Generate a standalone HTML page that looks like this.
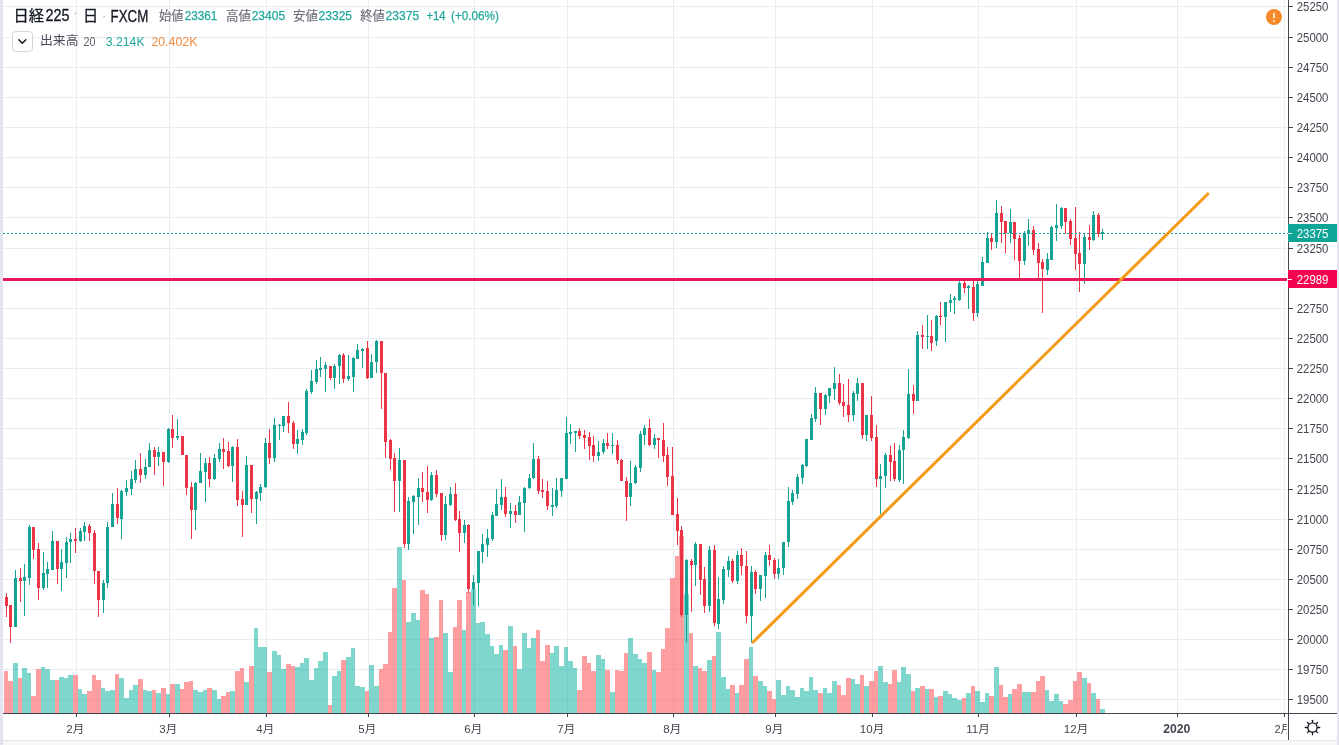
<!DOCTYPE html>
<html lang="ja"><head><meta charset="utf-8"><title>日経225 日 FXCM</title>
<style>html,body{margin:0;padding:0;background:#fff;overflow:hidden}svg{display:block;will-change:transform;opacity:0.999}</style>
</head><body>
<svg width="1339" height="745" viewBox="0 0 1339 745" font-family="'Liberation Sans', 'Noto Sans CJK JP', sans-serif">
<rect width="1339" height="745" fill="#fff"/>
<rect x="0" y="741" width="1339" height="4" fill="#f6f7f9"/>
<rect x="3" y="740" width="1334" height="1" fill="#e3e5ea"/>
<rect x="0" y="0" width="3" height="745" fill="#e4e4ee"/>
<rect x="1337" y="0" width="2" height="745" fill="#e6e4ee"/>
<g fill="#e7edf3" shape-rendering="crispEdges">
<rect x="3" y="6" width="1285" height="1"/>
<rect x="3" y="37" width="1285" height="1"/>
<rect x="3" y="67" width="1285" height="1"/>
<rect x="3" y="97" width="1285" height="1"/>
<rect x="3" y="127" width="1285" height="1"/>
<rect x="3" y="157" width="1285" height="1"/>
<rect x="3" y="187" width="1285" height="1"/>
<rect x="3" y="217" width="1285" height="1"/>
<rect x="3" y="248" width="1285" height="1"/>
<rect x="3" y="278" width="1285" height="1"/>
<rect x="3" y="308" width="1285" height="1"/>
<rect x="3" y="338" width="1285" height="1"/>
<rect x="3" y="368" width="1285" height="1"/>
<rect x="3" y="398" width="1285" height="1"/>
<rect x="3" y="428" width="1285" height="1"/>
<rect x="3" y="458" width="1285" height="1"/>
<rect x="3" y="489" width="1285" height="1"/>
<rect x="3" y="519" width="1285" height="1"/>
<rect x="3" y="549" width="1285" height="1"/>
<rect x="3" y="579" width="1285" height="1"/>
<rect x="3" y="609" width="1285" height="1"/>
<rect x="3" y="639" width="1285" height="1"/>
<rect x="3" y="669" width="1285" height="1"/>
<rect x="3" y="699" width="1285" height="1"/>
<rect x="76" y="0" width="1" height="713"/>
<rect x="169" y="0" width="1" height="713"/>
<rect x="266" y="0" width="1" height="713"/>
<rect x="368" y="0" width="1" height="713"/>
<rect x="474" y="0" width="1" height="713"/>
<rect x="567" y="0" width="1" height="713"/>
<rect x="673" y="0" width="1" height="713"/>
<rect x="775" y="0" width="1" height="713"/>
<rect x="872" y="0" width="1" height="713"/>
<rect x="978" y="0" width="1" height="713"/>
<rect x="1076" y="0" width="1" height="713"/>
<rect x="1177" y="0" width="1" height="713"/>
<rect x="1284" y="0" width="1" height="713"/>
</g>
<g shape-rendering="crispEdges" fill-opacity="0.55">
<rect x="4" y="671" width="4" height="42" fill="#ff4f52"/>
<rect x="8" y="681" width="5" height="32" fill="#ff4f52"/>
<rect x="13" y="663" width="5" height="50" fill="#14b4a4"/>
<rect x="18" y="678" width="4" height="35" fill="#ff4f52"/>
<rect x="22" y="668" width="5" height="45" fill="#14b4a4"/>
<rect x="27" y="673" width="4" height="40" fill="#14b4a4"/>
<rect x="31" y="696" width="5" height="17" fill="#ff4f52"/>
<rect x="36" y="669" width="5" height="44" fill="#ff4f52"/>
<rect x="41" y="667" width="4" height="46" fill="#14b4a4"/>
<rect x="45" y="669" width="5" height="44" fill="#14b4a4"/>
<rect x="50" y="680" width="5" height="33" fill="#14b4a4"/>
<rect x="55" y="680" width="4" height="33" fill="#ff4f52"/>
<rect x="59" y="677" width="5" height="36" fill="#14b4a4"/>
<rect x="64" y="678" width="4" height="35" fill="#14b4a4"/>
<rect x="68" y="675" width="5" height="38" fill="#14b4a4"/>
<rect x="73" y="675" width="5" height="38" fill="#ff4f52"/>
<rect x="78" y="689" width="4" height="24" fill="#14b4a4"/>
<rect x="82" y="694" width="5" height="19" fill="#14b4a4"/>
<rect x="87" y="691" width="5" height="22" fill="#ff4f52"/>
<rect x="92" y="675" width="4" height="38" fill="#ff4f52"/>
<rect x="96" y="680" width="5" height="33" fill="#ff4f52"/>
<rect x="101" y="688" width="4" height="25" fill="#14b4a4"/>
<rect x="105" y="691" width="5" height="22" fill="#14b4a4"/>
<rect x="110" y="690" width="5" height="23" fill="#14b4a4"/>
<rect x="115" y="674" width="4" height="39" fill="#ff4f52"/>
<rect x="119" y="678" width="5" height="35" fill="#14b4a4"/>
<rect x="124" y="698" width="5" height="15" fill="#14b4a4"/>
<rect x="129" y="690" width="4" height="23" fill="#14b4a4"/>
<rect x="133" y="685" width="5" height="28" fill="#14b4a4"/>
<rect x="138" y="679" width="5" height="34" fill="#ff4f52"/>
<rect x="143" y="690" width="4" height="23" fill="#14b4a4"/>
<rect x="147" y="691" width="5" height="22" fill="#14b4a4"/>
<rect x="152" y="690" width="4" height="23" fill="#ff4f52"/>
<rect x="156" y="693" width="5" height="20" fill="#14b4a4"/>
<rect x="161" y="688" width="5" height="25" fill="#ff4f52"/>
<rect x="166" y="694" width="4" height="19" fill="#14b4a4"/>
<rect x="170" y="684" width="5" height="29" fill="#ff4f52"/>
<rect x="175" y="684" width="5" height="29" fill="#14b4a4"/>
<rect x="180" y="689" width="4" height="24" fill="#ff4f52"/>
<rect x="184" y="682" width="5" height="31" fill="#ff4f52"/>
<rect x="189" y="681" width="4" height="32" fill="#ff4f52"/>
<rect x="193" y="690" width="5" height="23" fill="#14b4a4"/>
<rect x="198" y="692" width="5" height="21" fill="#14b4a4"/>
<rect x="203" y="690" width="4" height="23" fill="#14b4a4"/>
<rect x="207" y="688" width="5" height="25" fill="#ff4f52"/>
<rect x="212" y="690" width="5" height="23" fill="#14b4a4"/>
<rect x="217" y="699" width="4" height="14" fill="#14b4a4"/>
<rect x="221" y="696" width="5" height="17" fill="#ff4f52"/>
<rect x="226" y="692" width="4" height="21" fill="#ff4f52"/>
<rect x="230" y="691" width="5" height="22" fill="#14b4a4"/>
<rect x="235" y="671" width="5" height="42" fill="#ff4f52"/>
<rect x="240" y="668" width="4" height="45" fill="#ff4f52"/>
<rect x="244" y="682" width="5" height="31" fill="#14b4a4"/>
<rect x="249" y="666" width="5" height="47" fill="#ff4f52"/>
<rect x="254" y="628" width="4" height="85" fill="#14b4a4"/>
<rect x="258" y="647" width="5" height="66" fill="#14b4a4"/>
<rect x="263" y="647" width="4" height="66" fill="#14b4a4"/>
<rect x="267" y="672" width="5" height="41" fill="#ff4f52"/>
<rect x="272" y="651" width="5" height="62" fill="#14b4a4"/>
<rect x="277" y="655" width="4" height="58" fill="#14b4a4"/>
<rect x="281" y="669" width="5" height="44" fill="#14b4a4"/>
<rect x="286" y="664" width="5" height="49" fill="#ff4f52"/>
<rect x="291" y="666" width="4" height="47" fill="#ff4f52"/>
<rect x="295" y="667" width="5" height="46" fill="#14b4a4"/>
<rect x="300" y="663" width="4" height="50" fill="#14b4a4"/>
<rect x="304" y="658" width="5" height="55" fill="#14b4a4"/>
<rect x="309" y="680" width="5" height="33" fill="#14b4a4"/>
<rect x="314" y="668" width="4" height="45" fill="#14b4a4"/>
<rect x="318" y="661" width="5" height="52" fill="#14b4a4"/>
<rect x="323" y="652" width="5" height="61" fill="#14b4a4"/>
<rect x="328" y="705" width="4" height="8" fill="#ff4f52"/>
<rect x="332" y="676" width="5" height="37" fill="#14b4a4"/>
<rect x="337" y="671" width="4" height="42" fill="#14b4a4"/>
<rect x="341" y="660" width="5" height="53" fill="#ff4f52"/>
<rect x="346" y="657" width="5" height="56" fill="#14b4a4"/>
<rect x="351" y="648" width="4" height="65" fill="#14b4a4"/>
<rect x="355" y="686" width="5" height="27" fill="#14b4a4"/>
<rect x="360" y="687" width="5" height="26" fill="#14b4a4"/>
<rect x="365" y="691" width="4" height="22" fill="#ff4f52"/>
<rect x="369" y="665" width="5" height="48" fill="#14b4a4"/>
<rect x="374" y="686" width="5" height="27" fill="#14b4a4"/>
<rect x="379" y="669" width="4" height="44" fill="#ff4f52"/>
<rect x="383" y="664" width="5" height="49" fill="#ff4f52"/>
<rect x="388" y="632" width="4" height="81" fill="#ff4f52"/>
<rect x="392" y="588" width="5" height="125" fill="#ff4f52"/>
<rect x="397" y="547" width="5" height="166" fill="#14b4a4"/>
<rect x="402" y="580" width="4" height="133" fill="#ff4f52"/>
<rect x="406" y="622" width="5" height="91" fill="#14b4a4"/>
<rect x="411" y="613" width="5" height="100" fill="#14b4a4"/>
<rect x="416" y="620" width="4" height="93" fill="#14b4a4"/>
<rect x="420" y="590" width="5" height="123" fill="#ff4f52"/>
<rect x="425" y="594" width="4" height="119" fill="#ff4f52"/>
<rect x="429" y="638" width="5" height="75" fill="#14b4a4"/>
<rect x="434" y="637" width="5" height="76" fill="#ff4f52"/>
<rect x="439" y="600" width="4" height="113" fill="#ff4f52"/>
<rect x="443" y="633" width="5" height="80" fill="#14b4a4"/>
<rect x="448" y="672" width="5" height="41" fill="#14b4a4"/>
<rect x="453" y="627" width="4" height="86" fill="#ff4f52"/>
<rect x="457" y="600" width="5" height="113" fill="#ff4f52"/>
<rect x="462" y="630" width="4" height="83" fill="#14b4a4"/>
<rect x="466" y="592" width="5" height="121" fill="#ff4f52"/>
<rect x="471" y="589" width="5" height="124" fill="#14b4a4"/>
<rect x="476" y="623" width="4" height="90" fill="#14b4a4"/>
<rect x="480" y="622" width="5" height="91" fill="#14b4a4"/>
<rect x="485" y="634" width="5" height="79" fill="#14b4a4"/>
<rect x="490" y="646" width="4" height="67" fill="#14b4a4"/>
<rect x="494" y="654" width="5" height="59" fill="#14b4a4"/>
<rect x="499" y="645" width="4" height="68" fill="#14b4a4"/>
<rect x="503" y="650" width="5" height="63" fill="#ff4f52"/>
<rect x="508" y="626" width="5" height="87" fill="#14b4a4"/>
<rect x="513" y="646" width="4" height="67" fill="#ff4f52"/>
<rect x="517" y="669" width="5" height="44" fill="#14b4a4"/>
<rect x="522" y="633" width="5" height="80" fill="#14b4a4"/>
<rect x="527" y="648" width="4" height="65" fill="#14b4a4"/>
<rect x="531" y="638" width="5" height="75" fill="#14b4a4"/>
<rect x="536" y="630" width="4" height="83" fill="#ff4f52"/>
<rect x="540" y="661" width="5" height="52" fill="#ff4f52"/>
<rect x="545" y="645" width="5" height="68" fill="#ff4f52"/>
<rect x="550" y="653" width="4" height="60" fill="#14b4a4"/>
<rect x="554" y="646" width="5" height="67" fill="#14b4a4"/>
<rect x="559" y="666" width="5" height="47" fill="#14b4a4"/>
<rect x="564" y="647" width="4" height="66" fill="#14b4a4"/>
<rect x="568" y="661" width="5" height="52" fill="#14b4a4"/>
<rect x="573" y="668" width="4" height="45" fill="#14b4a4"/>
<rect x="577" y="690" width="5" height="23" fill="#ff4f52"/>
<rect x="582" y="656" width="5" height="57" fill="#ff4f52"/>
<rect x="587" y="663" width="4" height="50" fill="#ff4f52"/>
<rect x="591" y="671" width="5" height="42" fill="#ff4f52"/>
<rect x="596" y="655" width="5" height="58" fill="#14b4a4"/>
<rect x="601" y="659" width="4" height="54" fill="#14b4a4"/>
<rect x="605" y="670" width="5" height="43" fill="#ff4f52"/>
<rect x="610" y="692" width="5" height="21" fill="#14b4a4"/>
<rect x="615" y="670" width="4" height="43" fill="#ff4f52"/>
<rect x="619" y="671" width="5" height="42" fill="#ff4f52"/>
<rect x="624" y="653" width="4" height="60" fill="#ff4f52"/>
<rect x="628" y="638" width="5" height="75" fill="#14b4a4"/>
<rect x="633" y="654" width="5" height="59" fill="#14b4a4"/>
<rect x="638" y="659" width="4" height="54" fill="#14b4a4"/>
<rect x="642" y="663" width="5" height="50" fill="#14b4a4"/>
<rect x="647" y="652" width="5" height="61" fill="#ff4f52"/>
<rect x="652" y="670" width="4" height="43" fill="#14b4a4"/>
<rect x="656" y="672" width="5" height="41" fill="#ff4f52"/>
<rect x="661" y="649" width="4" height="64" fill="#ff4f52"/>
<rect x="665" y="628" width="5" height="85" fill="#ff4f52"/>
<rect x="670" y="578" width="5" height="135" fill="#ff4f52"/>
<rect x="675" y="556" width="4" height="157" fill="#ff4f52"/>
<rect x="679" y="536" width="5" height="177" fill="#ff4f52"/>
<rect x="684" y="594" width="5" height="119" fill="#14b4a4"/>
<rect x="689" y="633" width="4" height="80" fill="#ff4f52"/>
<rect x="693" y="666" width="5" height="47" fill="#14b4a4"/>
<rect x="698" y="668" width="4" height="45" fill="#ff4f52"/>
<rect x="702" y="671" width="5" height="42" fill="#ff4f52"/>
<rect x="707" y="660" width="5" height="53" fill="#14b4a4"/>
<rect x="712" y="656" width="4" height="57" fill="#ff4f52"/>
<rect x="716" y="632" width="5" height="81" fill="#14b4a4"/>
<rect x="721" y="677" width="5" height="36" fill="#14b4a4"/>
<rect x="726" y="689" width="4" height="24" fill="#14b4a4"/>
<rect x="730" y="685" width="5" height="28" fill="#ff4f52"/>
<rect x="735" y="693" width="4" height="20" fill="#14b4a4"/>
<rect x="739" y="685" width="5" height="28" fill="#ff4f52"/>
<rect x="744" y="659" width="5" height="54" fill="#ff4f52"/>
<rect x="749" y="647" width="4" height="66" fill="#14b4a4"/>
<rect x="753" y="676" width="5" height="37" fill="#ff4f52"/>
<rect x="758" y="681" width="5" height="32" fill="#14b4a4"/>
<rect x="763" y="686" width="4" height="27" fill="#14b4a4"/>
<rect x="767" y="691" width="5" height="22" fill="#ff4f52"/>
<rect x="772" y="699" width="4" height="14" fill="#ff4f52"/>
<rect x="776" y="680" width="5" height="33" fill="#14b4a4"/>
<rect x="781" y="695" width="5" height="18" fill="#14b4a4"/>
<rect x="786" y="686" width="4" height="27" fill="#14b4a4"/>
<rect x="790" y="690" width="5" height="23" fill="#14b4a4"/>
<rect x="795" y="697" width="5" height="16" fill="#14b4a4"/>
<rect x="800" y="688" width="4" height="25" fill="#14b4a4"/>
<rect x="804" y="691" width="5" height="22" fill="#14b4a4"/>
<rect x="809" y="677" width="4" height="36" fill="#14b4a4"/>
<rect x="813" y="690" width="5" height="23" fill="#14b4a4"/>
<rect x="818" y="693" width="5" height="20" fill="#ff4f52"/>
<rect x="823" y="688" width="4" height="25" fill="#14b4a4"/>
<rect x="827" y="693" width="5" height="20" fill="#14b4a4"/>
<rect x="832" y="681" width="5" height="32" fill="#14b4a4"/>
<rect x="837" y="685" width="4" height="28" fill="#ff4f52"/>
<rect x="841" y="695" width="5" height="18" fill="#ff4f52"/>
<rect x="846" y="678" width="5" height="35" fill="#ff4f52"/>
<rect x="851" y="679" width="4" height="34" fill="#14b4a4"/>
<rect x="855" y="684" width="5" height="29" fill="#14b4a4"/>
<rect x="860" y="675" width="4" height="38" fill="#ff4f52"/>
<rect x="864" y="686" width="5" height="27" fill="#14b4a4"/>
<rect x="869" y="681" width="5" height="32" fill="#ff4f52"/>
<rect x="874" y="671" width="4" height="42" fill="#ff4f52"/>
<rect x="878" y="666" width="5" height="47" fill="#14b4a4"/>
<rect x="883" y="682" width="5" height="31" fill="#14b4a4"/>
<rect x="888" y="684" width="4" height="29" fill="#ff4f52"/>
<rect x="892" y="670" width="5" height="43" fill="#ff4f52"/>
<rect x="897" y="682" width="4" height="31" fill="#14b4a4"/>
<rect x="901" y="667" width="5" height="46" fill="#14b4a4"/>
<rect x="906" y="674" width="5" height="39" fill="#14b4a4"/>
<rect x="911" y="691" width="4" height="22" fill="#ff4f52"/>
<rect x="915" y="688" width="5" height="25" fill="#14b4a4"/>
<rect x="920" y="686" width="5" height="27" fill="#ff4f52"/>
<rect x="925" y="689" width="4" height="24" fill="#14b4a4"/>
<rect x="929" y="689" width="5" height="24" fill="#ff4f52"/>
<rect x="934" y="697" width="4" height="16" fill="#14b4a4"/>
<rect x="938" y="696" width="5" height="17" fill="#ff4f52"/>
<rect x="943" y="691" width="5" height="22" fill="#14b4a4"/>
<rect x="948" y="694" width="4" height="19" fill="#14b4a4"/>
<rect x="952" y="698" width="5" height="15" fill="#14b4a4"/>
<rect x="957" y="700" width="5" height="13" fill="#14b4a4"/>
<rect x="962" y="698" width="4" height="15" fill="#ff4f52"/>
<rect x="966" y="693" width="5" height="20" fill="#14b4a4"/>
<rect x="971" y="686" width="4" height="27" fill="#ff4f52"/>
<rect x="975" y="691" width="5" height="22" fill="#14b4a4"/>
<rect x="980" y="702" width="5" height="11" fill="#14b4a4"/>
<rect x="985" y="693" width="4" height="20" fill="#14b4a4"/>
<rect x="989" y="696" width="5" height="17" fill="#ff4f52"/>
<rect x="994" y="667" width="5" height="46" fill="#14b4a4"/>
<rect x="999" y="685" width="4" height="28" fill="#ff4f52"/>
<rect x="1003" y="697" width="5" height="16" fill="#ff4f52"/>
<rect x="1008" y="694" width="4" height="19" fill="#14b4a4"/>
<rect x="1012" y="689" width="5" height="24" fill="#ff4f52"/>
<rect x="1017" y="684" width="5" height="29" fill="#ff4f52"/>
<rect x="1022" y="692" width="4" height="21" fill="#14b4a4"/>
<rect x="1026" y="692" width="5" height="21" fill="#14b4a4"/>
<rect x="1031" y="692" width="5" height="21" fill="#ff4f52"/>
<rect x="1036" y="681" width="4" height="32" fill="#ff4f52"/>
<rect x="1040" y="676" width="5" height="37" fill="#ff4f52"/>
<rect x="1045" y="690" width="4" height="23" fill="#14b4a4"/>
<rect x="1049" y="701" width="5" height="12" fill="#14b4a4"/>
<rect x="1054" y="694" width="5" height="19" fill="#14b4a4"/>
<rect x="1059" y="701" width="4" height="12" fill="#14b4a4"/>
<rect x="1063" y="704" width="5" height="9" fill="#ff4f52"/>
<rect x="1068" y="700" width="5" height="13" fill="#ff4f52"/>
<rect x="1073" y="681" width="4" height="32" fill="#ff4f52"/>
<rect x="1077" y="672" width="5" height="41" fill="#ff4f52"/>
<rect x="1082" y="678" width="5" height="35" fill="#14b4a4"/>
<rect x="1087" y="683" width="4" height="30" fill="#ff4f52"/>
<rect x="1091" y="693" width="5" height="20" fill="#14b4a4"/>
<rect x="1096" y="699" width="4" height="14" fill="#ff4f52"/>
<rect x="1100" y="709" width="5" height="4" fill="#14b4a4"/>
</g>
<g shape-rendering="crispEdges">
<rect x="6" y="593" width="1" height="24" fill="#ea3546"/>
<rect x="5" y="597" width="3" height="9" fill="#ea3546"/>
<rect x="10" y="605" width="1" height="38" fill="#ea3546"/>
<rect x="9" y="605" width="3" height="22" fill="#ea3546"/>
<rect x="15" y="570" width="1" height="57" fill="#16a394"/>
<rect x="14" y="578" width="3" height="49" fill="#16a394"/>
<rect x="20" y="568" width="1" height="34" fill="#ea3546"/>
<rect x="19" y="578" width="3" height="3" fill="#ea3546"/>
<rect x="24" y="564" width="1" height="52" fill="#16a394"/>
<rect x="23" y="577" width="3" height="4" fill="#16a394"/>
<rect x="29" y="525" width="1" height="60" fill="#16a394"/>
<rect x="28" y="527" width="3" height="51" fill="#16a394"/>
<rect x="33" y="527" width="1" height="32" fill="#ea3546"/>
<rect x="32" y="527" width="3" height="23" fill="#ea3546"/>
<rect x="38" y="543" width="1" height="57" fill="#ea3546"/>
<rect x="37" y="549" width="3" height="39" fill="#ea3546"/>
<rect x="43" y="552" width="1" height="38" fill="#16a394"/>
<rect x="42" y="573" width="3" height="15" fill="#16a394"/>
<rect x="47" y="562" width="1" height="26" fill="#16a394"/>
<rect x="46" y="569" width="3" height="5" fill="#16a394"/>
<rect x="52" y="531" width="1" height="39" fill="#16a394"/>
<rect x="51" y="541" width="3" height="29" fill="#16a394"/>
<rect x="57" y="541" width="1" height="43" fill="#ea3546"/>
<rect x="56" y="541" width="3" height="28" fill="#ea3546"/>
<rect x="61" y="549" width="1" height="42" fill="#16a394"/>
<rect x="60" y="562" width="3" height="7" fill="#16a394"/>
<rect x="66" y="537" width="1" height="41" fill="#16a394"/>
<rect x="65" y="542" width="3" height="21" fill="#16a394"/>
<rect x="70" y="533" width="1" height="30" fill="#16a394"/>
<rect x="69" y="539" width="3" height="3" fill="#16a394"/>
<rect x="75" y="528" width="1" height="25" fill="#ea3546"/>
<rect x="74" y="539" width="3" height="2" fill="#ea3546"/>
<rect x="80" y="528" width="1" height="14" fill="#16a394"/>
<rect x="79" y="531" width="3" height="10" fill="#16a394"/>
<rect x="84" y="522" width="1" height="19" fill="#16a394"/>
<rect x="83" y="526" width="3" height="6" fill="#16a394"/>
<rect x="89" y="524" width="1" height="17" fill="#ea3546"/>
<rect x="88" y="526" width="3" height="7" fill="#ea3546"/>
<rect x="94" y="530" width="1" height="54" fill="#ea3546"/>
<rect x="93" y="533" width="3" height="38" fill="#ea3546"/>
<rect x="98" y="571" width="1" height="46" fill="#ea3546"/>
<rect x="97" y="571" width="3" height="29" fill="#ea3546"/>
<rect x="103" y="580" width="1" height="33" fill="#16a394"/>
<rect x="102" y="583" width="3" height="17" fill="#16a394"/>
<rect x="107" y="522" width="1" height="66" fill="#16a394"/>
<rect x="106" y="527" width="3" height="56" fill="#16a394"/>
<rect x="112" y="493" width="1" height="34" fill="#16a394"/>
<rect x="111" y="504" width="3" height="23" fill="#16a394"/>
<rect x="117" y="488" width="1" height="36" fill="#ea3546"/>
<rect x="116" y="504" width="3" height="14" fill="#ea3546"/>
<rect x="121" y="490" width="1" height="49" fill="#16a394"/>
<rect x="120" y="491" width="3" height="28" fill="#16a394"/>
<rect x="126" y="480" width="1" height="16" fill="#16a394"/>
<rect x="125" y="488" width="3" height="4" fill="#16a394"/>
<rect x="131" y="471" width="1" height="24" fill="#16a394"/>
<rect x="130" y="479" width="3" height="10" fill="#16a394"/>
<rect x="135" y="460" width="1" height="23" fill="#16a394"/>
<rect x="134" y="469" width="3" height="11" fill="#16a394"/>
<rect x="140" y="453" width="1" height="30" fill="#ea3546"/>
<rect x="139" y="469" width="3" height="6" fill="#ea3546"/>
<rect x="145" y="459" width="1" height="20" fill="#16a394"/>
<rect x="144" y="467" width="3" height="8" fill="#16a394"/>
<rect x="149" y="443" width="1" height="24" fill="#16a394"/>
<rect x="148" y="450" width="3" height="17" fill="#16a394"/>
<rect x="154" y="447" width="1" height="28" fill="#ea3546"/>
<rect x="153" y="450" width="3" height="7" fill="#ea3546"/>
<rect x="158" y="447" width="1" height="19" fill="#16a394"/>
<rect x="157" y="452" width="3" height="5" fill="#16a394"/>
<rect x="163" y="452" width="1" height="34" fill="#ea3546"/>
<rect x="162" y="452" width="3" height="10" fill="#ea3546"/>
<rect x="168" y="428" width="1" height="35" fill="#16a394"/>
<rect x="167" y="429" width="3" height="33" fill="#16a394"/>
<rect x="172" y="415" width="1" height="33" fill="#ea3546"/>
<rect x="171" y="429" width="3" height="9" fill="#ea3546"/>
<rect x="177" y="419" width="1" height="21" fill="#16a394"/>
<rect x="176" y="436" width="3" height="2" fill="#16a394"/>
<rect x="182" y="436" width="1" height="19" fill="#ea3546"/>
<rect x="181" y="436" width="3" height="19" fill="#ea3546"/>
<rect x="186" y="455" width="1" height="40" fill="#ea3546"/>
<rect x="185" y="455" width="3" height="33" fill="#ea3546"/>
<rect x="191" y="482" width="1" height="57" fill="#ea3546"/>
<rect x="190" y="487" width="3" height="23" fill="#ea3546"/>
<rect x="195" y="482" width="1" height="48" fill="#16a394"/>
<rect x="194" y="483" width="3" height="27" fill="#16a394"/>
<rect x="200" y="453" width="1" height="30" fill="#16a394"/>
<rect x="199" y="471" width="3" height="12" fill="#16a394"/>
<rect x="205" y="458" width="1" height="44" fill="#16a394"/>
<rect x="204" y="463" width="3" height="9" fill="#16a394"/>
<rect x="209" y="457" width="1" height="30" fill="#ea3546"/>
<rect x="208" y="463" width="3" height="16" fill="#ea3546"/>
<rect x="214" y="454" width="1" height="26" fill="#16a394"/>
<rect x="213" y="458" width="3" height="21" fill="#16a394"/>
<rect x="219" y="443" width="1" height="19" fill="#16a394"/>
<rect x="218" y="449" width="3" height="10" fill="#16a394"/>
<rect x="223" y="438" width="1" height="31" fill="#ea3546"/>
<rect x="222" y="449" width="3" height="3" fill="#ea3546"/>
<rect x="228" y="442" width="1" height="25" fill="#ea3546"/>
<rect x="227" y="451" width="3" height="15" fill="#ea3546"/>
<rect x="232" y="446" width="1" height="36" fill="#16a394"/>
<rect x="231" y="447" width="3" height="19" fill="#16a394"/>
<rect x="237" y="439" width="1" height="67" fill="#ea3546"/>
<rect x="236" y="447" width="3" height="53" fill="#ea3546"/>
<rect x="242" y="491" width="1" height="46" fill="#ea3546"/>
<rect x="241" y="499" width="3" height="6" fill="#ea3546"/>
<rect x="246" y="456" width="1" height="49" fill="#16a394"/>
<rect x="245" y="465" width="3" height="40" fill="#16a394"/>
<rect x="251" y="465" width="1" height="48" fill="#ea3546"/>
<rect x="250" y="465" width="3" height="34" fill="#ea3546"/>
<rect x="256" y="491" width="1" height="33" fill="#16a394"/>
<rect x="255" y="492" width="3" height="7" fill="#16a394"/>
<rect x="260" y="484" width="1" height="17" fill="#16a394"/>
<rect x="259" y="487" width="3" height="6" fill="#16a394"/>
<rect x="265" y="438" width="1" height="50" fill="#16a394"/>
<rect x="264" y="443" width="3" height="44" fill="#16a394"/>
<rect x="269" y="429" width="1" height="35" fill="#ea3546"/>
<rect x="268" y="443" width="3" height="15" fill="#ea3546"/>
<rect x="274" y="418" width="1" height="44" fill="#16a394"/>
<rect x="273" y="425" width="3" height="33" fill="#16a394"/>
<rect x="279" y="424" width="1" height="16" fill="#16a394"/>
<rect x="278" y="425" width="3" height="1" fill="#16a394"/>
<rect x="283" y="416" width="1" height="16" fill="#16a394"/>
<rect x="282" y="416" width="3" height="10" fill="#16a394"/>
<rect x="288" y="402" width="1" height="31" fill="#ea3546"/>
<rect x="287" y="416" width="3" height="7" fill="#ea3546"/>
<rect x="293" y="421" width="1" height="28" fill="#ea3546"/>
<rect x="292" y="423" width="3" height="21" fill="#ea3546"/>
<rect x="297" y="430" width="1" height="24" fill="#16a394"/>
<rect x="296" y="439" width="3" height="5" fill="#16a394"/>
<rect x="302" y="429" width="1" height="16" fill="#16a394"/>
<rect x="301" y="432" width="3" height="8" fill="#16a394"/>
<rect x="306" y="389" width="1" height="46" fill="#16a394"/>
<rect x="305" y="391" width="3" height="42" fill="#16a394"/>
<rect x="311" y="370" width="1" height="24" fill="#16a394"/>
<rect x="310" y="381" width="3" height="11" fill="#16a394"/>
<rect x="316" y="360" width="1" height="24" fill="#16a394"/>
<rect x="315" y="369" width="3" height="13" fill="#16a394"/>
<rect x="320" y="357" width="1" height="20" fill="#16a394"/>
<rect x="319" y="368" width="3" height="2" fill="#16a394"/>
<rect x="325" y="362" width="1" height="30" fill="#16a394"/>
<rect x="324" y="365" width="3" height="4" fill="#16a394"/>
<rect x="330" y="366" width="1" height="14" fill="#ea3546"/>
<rect x="329" y="366" width="3" height="12" fill="#ea3546"/>
<rect x="334" y="364" width="1" height="25" fill="#16a394"/>
<rect x="333" y="366" width="3" height="12" fill="#16a394"/>
<rect x="339" y="354" width="1" height="30" fill="#16a394"/>
<rect x="338" y="355" width="3" height="11" fill="#16a394"/>
<rect x="343" y="353" width="1" height="30" fill="#ea3546"/>
<rect x="342" y="355" width="3" height="24" fill="#ea3546"/>
<rect x="348" y="355" width="1" height="26" fill="#16a394"/>
<rect x="347" y="376" width="3" height="3" fill="#16a394"/>
<rect x="353" y="357" width="1" height="35" fill="#16a394"/>
<rect x="352" y="358" width="3" height="19" fill="#16a394"/>
<rect x="357" y="344" width="1" height="15" fill="#16a394"/>
<rect x="356" y="350" width="3" height="9" fill="#16a394"/>
<rect x="362" y="348" width="1" height="20" fill="#16a394"/>
<rect x="361" y="349" width="3" height="2" fill="#16a394"/>
<rect x="367" y="341" width="1" height="38" fill="#ea3546"/>
<rect x="366" y="348" width="3" height="30" fill="#ea3546"/>
<rect x="371" y="354" width="1" height="24" fill="#16a394"/>
<rect x="370" y="362" width="3" height="16" fill="#16a394"/>
<rect x="376" y="340" width="1" height="33" fill="#16a394"/>
<rect x="375" y="341" width="3" height="21" fill="#16a394"/>
<rect x="381" y="341" width="1" height="68" fill="#ea3546"/>
<rect x="380" y="341" width="3" height="32" fill="#ea3546"/>
<rect x="385" y="373" width="1" height="85" fill="#ea3546"/>
<rect x="384" y="373" width="3" height="69" fill="#ea3546"/>
<rect x="390" y="439" width="1" height="31" fill="#ea3546"/>
<rect x="389" y="440" width="3" height="19" fill="#ea3546"/>
<rect x="394" y="453" width="1" height="59" fill="#ea3546"/>
<rect x="393" y="458" width="3" height="23" fill="#ea3546"/>
<rect x="399" y="448" width="1" height="64" fill="#16a394"/>
<rect x="398" y="460" width="3" height="21" fill="#16a394"/>
<rect x="404" y="460" width="1" height="88" fill="#ea3546"/>
<rect x="403" y="460" width="3" height="84" fill="#ea3546"/>
<rect x="408" y="497" width="1" height="53" fill="#16a394"/>
<rect x="407" y="501" width="3" height="43" fill="#16a394"/>
<rect x="413" y="495" width="1" height="39" fill="#16a394"/>
<rect x="412" y="496" width="3" height="6" fill="#16a394"/>
<rect x="418" y="478" width="1" height="47" fill="#16a394"/>
<rect x="417" y="488" width="3" height="9" fill="#16a394"/>
<rect x="422" y="472" width="1" height="30" fill="#ea3546"/>
<rect x="421" y="488" width="3" height="4" fill="#ea3546"/>
<rect x="427" y="466" width="1" height="47" fill="#ea3546"/>
<rect x="426" y="492" width="3" height="8" fill="#ea3546"/>
<rect x="431" y="472" width="1" height="29" fill="#16a394"/>
<rect x="430" y="475" width="3" height="25" fill="#16a394"/>
<rect x="436" y="470" width="1" height="27" fill="#ea3546"/>
<rect x="435" y="475" width="3" height="19" fill="#ea3546"/>
<rect x="441" y="493" width="1" height="48" fill="#ea3546"/>
<rect x="440" y="493" width="3" height="42" fill="#ea3546"/>
<rect x="445" y="496" width="1" height="44" fill="#16a394"/>
<rect x="444" y="504" width="3" height="31" fill="#16a394"/>
<rect x="450" y="487" width="1" height="19" fill="#16a394"/>
<rect x="449" y="494" width="3" height="11" fill="#16a394"/>
<rect x="455" y="483" width="1" height="38" fill="#ea3546"/>
<rect x="454" y="494" width="3" height="26" fill="#ea3546"/>
<rect x="459" y="511" width="1" height="41" fill="#ea3546"/>
<rect x="458" y="519" width="3" height="14" fill="#ea3546"/>
<rect x="464" y="520" width="1" height="23" fill="#16a394"/>
<rect x="463" y="525" width="3" height="8" fill="#16a394"/>
<rect x="468" y="524" width="1" height="69" fill="#ea3546"/>
<rect x="467" y="525" width="3" height="64" fill="#ea3546"/>
<rect x="473" y="575" width="1" height="30" fill="#16a394"/>
<rect x="472" y="582" width="3" height="7" fill="#16a394"/>
<rect x="478" y="551" width="1" height="55" fill="#16a394"/>
<rect x="477" y="551" width="3" height="32" fill="#16a394"/>
<rect x="482" y="534" width="1" height="29" fill="#16a394"/>
<rect x="481" y="544" width="3" height="8" fill="#16a394"/>
<rect x="487" y="529" width="1" height="28" fill="#16a394"/>
<rect x="486" y="538" width="3" height="7" fill="#16a394"/>
<rect x="492" y="512" width="1" height="29" fill="#16a394"/>
<rect x="491" y="515" width="3" height="24" fill="#16a394"/>
<rect x="496" y="489" width="1" height="27" fill="#16a394"/>
<rect x="495" y="504" width="3" height="12" fill="#16a394"/>
<rect x="501" y="479" width="1" height="31" fill="#16a394"/>
<rect x="500" y="497" width="3" height="8" fill="#16a394"/>
<rect x="505" y="487" width="1" height="30" fill="#ea3546"/>
<rect x="504" y="497" width="3" height="17" fill="#ea3546"/>
<rect x="510" y="503" width="1" height="25" fill="#16a394"/>
<rect x="509" y="511" width="3" height="3" fill="#16a394"/>
<rect x="515" y="505" width="1" height="18" fill="#ea3546"/>
<rect x="514" y="511" width="3" height="4" fill="#ea3546"/>
<rect x="519" y="496" width="1" height="19" fill="#16a394"/>
<rect x="518" y="502" width="3" height="13" fill="#16a394"/>
<rect x="524" y="487" width="1" height="45" fill="#16a394"/>
<rect x="523" y="488" width="3" height="15" fill="#16a394"/>
<rect x="529" y="474" width="1" height="15" fill="#16a394"/>
<rect x="528" y="478" width="3" height="10" fill="#16a394"/>
<rect x="533" y="443" width="1" height="36" fill="#16a394"/>
<rect x="532" y="459" width="3" height="19" fill="#16a394"/>
<rect x="538" y="456" width="1" height="38" fill="#ea3546"/>
<rect x="537" y="459" width="3" height="32" fill="#ea3546"/>
<rect x="542" y="479" width="1" height="19" fill="#ea3546"/>
<rect x="541" y="490" width="3" height="2" fill="#ea3546"/>
<rect x="547" y="481" width="1" height="29" fill="#ea3546"/>
<rect x="546" y="491" width="3" height="15" fill="#ea3546"/>
<rect x="552" y="488" width="1" height="28" fill="#16a394"/>
<rect x="551" y="505" width="3" height="2" fill="#16a394"/>
<rect x="556" y="478" width="1" height="30" fill="#16a394"/>
<rect x="555" y="490" width="3" height="16" fill="#16a394"/>
<rect x="561" y="478" width="1" height="19" fill="#16a394"/>
<rect x="560" y="478" width="3" height="13" fill="#16a394"/>
<rect x="566" y="417" width="1" height="62" fill="#16a394"/>
<rect x="565" y="433" width="3" height="46" fill="#16a394"/>
<rect x="570" y="424" width="1" height="20" fill="#16a394"/>
<rect x="569" y="432" width="3" height="2" fill="#16a394"/>
<rect x="575" y="431" width="1" height="21" fill="#16a394"/>
<rect x="574" y="431" width="3" height="2" fill="#16a394"/>
<rect x="579" y="428" width="1" height="11" fill="#ea3546"/>
<rect x="578" y="431" width="3" height="5" fill="#ea3546"/>
<rect x="584" y="430" width="1" height="19" fill="#ea3546"/>
<rect x="583" y="435" width="3" height="3" fill="#ea3546"/>
<rect x="589" y="432" width="1" height="28" fill="#ea3546"/>
<rect x="588" y="437" width="3" height="9" fill="#ea3546"/>
<rect x="593" y="436" width="1" height="26" fill="#ea3546"/>
<rect x="592" y="445" width="3" height="11" fill="#ea3546"/>
<rect x="598" y="441" width="1" height="20" fill="#16a394"/>
<rect x="597" y="452" width="3" height="4" fill="#16a394"/>
<rect x="603" y="439" width="1" height="15" fill="#16a394"/>
<rect x="602" y="443" width="3" height="9" fill="#16a394"/>
<rect x="607" y="433" width="1" height="16" fill="#ea3546"/>
<rect x="606" y="443" width="3" height="3" fill="#ea3546"/>
<rect x="612" y="433" width="1" height="21" fill="#16a394"/>
<rect x="611" y="445" width="3" height="1" fill="#16a394"/>
<rect x="617" y="440" width="1" height="24" fill="#ea3546"/>
<rect x="616" y="445" width="3" height="15" fill="#ea3546"/>
<rect x="621" y="459" width="1" height="22" fill="#ea3546"/>
<rect x="620" y="460" width="3" height="21" fill="#ea3546"/>
<rect x="626" y="477" width="1" height="44" fill="#ea3546"/>
<rect x="625" y="481" width="3" height="16" fill="#ea3546"/>
<rect x="630" y="461" width="1" height="45" fill="#16a394"/>
<rect x="629" y="483" width="3" height="14" fill="#16a394"/>
<rect x="635" y="465" width="1" height="19" fill="#16a394"/>
<rect x="634" y="467" width="3" height="16" fill="#16a394"/>
<rect x="640" y="431" width="1" height="41" fill="#16a394"/>
<rect x="639" y="434" width="3" height="34" fill="#16a394"/>
<rect x="644" y="425" width="1" height="20" fill="#16a394"/>
<rect x="643" y="428" width="3" height="7" fill="#16a394"/>
<rect x="649" y="419" width="1" height="27" fill="#ea3546"/>
<rect x="648" y="428" width="3" height="17" fill="#ea3546"/>
<rect x="654" y="434" width="1" height="15" fill="#16a394"/>
<rect x="653" y="438" width="3" height="7" fill="#16a394"/>
<rect x="658" y="438" width="1" height="20" fill="#ea3546"/>
<rect x="657" y="438" width="3" height="2" fill="#ea3546"/>
<rect x="663" y="423" width="1" height="39" fill="#ea3546"/>
<rect x="662" y="440" width="3" height="16" fill="#ea3546"/>
<rect x="667" y="447" width="1" height="39" fill="#ea3546"/>
<rect x="666" y="455" width="3" height="22" fill="#ea3546"/>
<rect x="672" y="447" width="1" height="68" fill="#ea3546"/>
<rect x="671" y="476" width="3" height="39" fill="#ea3546"/>
<rect x="677" y="498" width="1" height="47" fill="#ea3546"/>
<rect x="676" y="514" width="3" height="17" fill="#ea3546"/>
<rect x="681" y="526" width="1" height="91" fill="#ea3546"/>
<rect x="680" y="530" width="3" height="85" fill="#ea3546"/>
<rect x="686" y="559" width="1" height="83" fill="#16a394"/>
<rect x="685" y="560" width="3" height="55" fill="#16a394"/>
<rect x="691" y="559" width="1" height="53" fill="#ea3546"/>
<rect x="690" y="561" width="3" height="4" fill="#ea3546"/>
<rect x="695" y="542" width="1" height="44" fill="#16a394"/>
<rect x="694" y="544" width="3" height="21" fill="#16a394"/>
<rect x="700" y="544" width="1" height="51" fill="#ea3546"/>
<rect x="699" y="544" width="3" height="36" fill="#ea3546"/>
<rect x="704" y="567" width="1" height="46" fill="#ea3546"/>
<rect x="703" y="579" width="3" height="27" fill="#ea3546"/>
<rect x="709" y="546" width="1" height="66" fill="#16a394"/>
<rect x="708" y="550" width="3" height="56" fill="#16a394"/>
<rect x="714" y="545" width="1" height="81" fill="#ea3546"/>
<rect x="713" y="550" width="3" height="73" fill="#ea3546"/>
<rect x="718" y="577" width="1" height="52" fill="#16a394"/>
<rect x="717" y="599" width="3" height="25" fill="#16a394"/>
<rect x="723" y="566" width="1" height="38" fill="#16a394"/>
<rect x="722" y="569" width="3" height="31" fill="#16a394"/>
<rect x="728" y="556" width="1" height="21" fill="#16a394"/>
<rect x="727" y="561" width="3" height="9" fill="#16a394"/>
<rect x="732" y="559" width="1" height="24" fill="#ea3546"/>
<rect x="731" y="561" width="3" height="20" fill="#ea3546"/>
<rect x="737" y="551" width="1" height="33" fill="#16a394"/>
<rect x="736" y="555" width="3" height="26" fill="#16a394"/>
<rect x="741" y="548" width="1" height="27" fill="#ea3546"/>
<rect x="740" y="555" width="3" height="11" fill="#ea3546"/>
<rect x="746" y="551" width="1" height="72" fill="#ea3546"/>
<rect x="745" y="566" width="3" height="50" fill="#ea3546"/>
<rect x="751" y="566" width="1" height="77" fill="#16a394"/>
<rect x="750" y="572" width="3" height="44" fill="#16a394"/>
<rect x="755" y="570" width="1" height="24" fill="#ea3546"/>
<rect x="754" y="572" width="3" height="17" fill="#ea3546"/>
<rect x="760" y="575" width="1" height="26" fill="#16a394"/>
<rect x="759" y="575" width="3" height="14" fill="#16a394"/>
<rect x="765" y="552" width="1" height="46" fill="#16a394"/>
<rect x="764" y="555" width="3" height="21" fill="#16a394"/>
<rect x="769" y="545" width="1" height="21" fill="#ea3546"/>
<rect x="768" y="555" width="3" height="5" fill="#ea3546"/>
<rect x="774" y="558" width="1" height="21" fill="#ea3546"/>
<rect x="773" y="560" width="3" height="14" fill="#ea3546"/>
<rect x="778" y="559" width="1" height="20" fill="#16a394"/>
<rect x="777" y="568" width="3" height="6" fill="#16a394"/>
<rect x="783" y="542" width="1" height="33" fill="#16a394"/>
<rect x="782" y="542" width="3" height="26" fill="#16a394"/>
<rect x="788" y="487" width="1" height="60" fill="#16a394"/>
<rect x="787" y="501" width="3" height="41" fill="#16a394"/>
<rect x="792" y="490" width="1" height="15" fill="#16a394"/>
<rect x="791" y="493" width="3" height="9" fill="#16a394"/>
<rect x="797" y="474" width="1" height="25" fill="#16a394"/>
<rect x="796" y="477" width="3" height="17" fill="#16a394"/>
<rect x="802" y="464" width="1" height="20" fill="#16a394"/>
<rect x="801" y="465" width="3" height="13" fill="#16a394"/>
<rect x="806" y="439" width="1" height="28" fill="#16a394"/>
<rect x="805" y="439" width="3" height="27" fill="#16a394"/>
<rect x="811" y="414" width="1" height="26" fill="#16a394"/>
<rect x="810" y="418" width="3" height="22" fill="#16a394"/>
<rect x="815" y="387" width="1" height="35" fill="#16a394"/>
<rect x="814" y="393" width="3" height="26" fill="#16a394"/>
<rect x="820" y="393" width="1" height="32" fill="#ea3546"/>
<rect x="819" y="393" width="3" height="16" fill="#ea3546"/>
<rect x="825" y="394" width="1" height="21" fill="#16a394"/>
<rect x="824" y="395" width="3" height="14" fill="#16a394"/>
<rect x="829" y="388" width="1" height="15" fill="#16a394"/>
<rect x="828" y="388" width="3" height="8" fill="#16a394"/>
<rect x="834" y="367" width="1" height="33" fill="#16a394"/>
<rect x="833" y="383" width="3" height="6" fill="#16a394"/>
<rect x="839" y="374" width="1" height="31" fill="#ea3546"/>
<rect x="838" y="383" width="3" height="20" fill="#ea3546"/>
<rect x="843" y="384" width="1" height="33" fill="#ea3546"/>
<rect x="842" y="402" width="3" height="4" fill="#ea3546"/>
<rect x="848" y="379" width="1" height="43" fill="#ea3546"/>
<rect x="847" y="405" width="3" height="10" fill="#ea3546"/>
<rect x="853" y="391" width="1" height="30" fill="#16a394"/>
<rect x="852" y="393" width="3" height="22" fill="#16a394"/>
<rect x="857" y="378" width="1" height="23" fill="#16a394"/>
<rect x="856" y="383" width="3" height="11" fill="#16a394"/>
<rect x="862" y="383" width="1" height="56" fill="#ea3546"/>
<rect x="861" y="383" width="3" height="52" fill="#ea3546"/>
<rect x="866" y="415" width="1" height="26" fill="#16a394"/>
<rect x="865" y="415" width="3" height="20" fill="#16a394"/>
<rect x="871" y="396" width="1" height="45" fill="#ea3546"/>
<rect x="870" y="415" width="3" height="23" fill="#ea3546"/>
<rect x="876" y="425" width="1" height="62" fill="#ea3546"/>
<rect x="875" y="437" width="3" height="42" fill="#ea3546"/>
<rect x="880" y="464" width="1" height="50" fill="#16a394"/>
<rect x="879" y="476" width="3" height="3" fill="#16a394"/>
<rect x="885" y="453" width="1" height="35" fill="#16a394"/>
<rect x="884" y="455" width="3" height="21" fill="#16a394"/>
<rect x="890" y="446" width="1" height="35" fill="#ea3546"/>
<rect x="889" y="455" width="3" height="7" fill="#ea3546"/>
<rect x="894" y="443" width="1" height="38" fill="#ea3546"/>
<rect x="893" y="461" width="3" height="18" fill="#ea3546"/>
<rect x="899" y="445" width="1" height="37" fill="#16a394"/>
<rect x="898" y="450" width="3" height="30" fill="#16a394"/>
<rect x="903" y="430" width="1" height="54" fill="#16a394"/>
<rect x="902" y="437" width="3" height="13" fill="#16a394"/>
<rect x="908" y="369" width="1" height="70" fill="#16a394"/>
<rect x="907" y="394" width="3" height="44" fill="#16a394"/>
<rect x="913" y="385" width="1" height="29" fill="#ea3546"/>
<rect x="912" y="394" width="3" height="7" fill="#ea3546"/>
<rect x="917" y="331" width="1" height="70" fill="#16a394"/>
<rect x="916" y="335" width="3" height="66" fill="#16a394"/>
<rect x="922" y="325" width="1" height="24" fill="#ea3546"/>
<rect x="921" y="335" width="3" height="2" fill="#ea3546"/>
<rect x="927" y="315" width="1" height="34" fill="#16a394"/>
<rect x="926" y="336" width="3" height="1" fill="#16a394"/>
<rect x="931" y="320" width="1" height="31" fill="#ea3546"/>
<rect x="930" y="336" width="3" height="7" fill="#ea3546"/>
<rect x="936" y="315" width="1" height="31" fill="#16a394"/>
<rect x="935" y="316" width="3" height="25" fill="#16a394"/>
<rect x="940" y="302" width="1" height="23" fill="#ea3546"/>
<rect x="939" y="316" width="3" height="1" fill="#ea3546"/>
<rect x="945" y="302" width="1" height="40" fill="#16a394"/>
<rect x="944" y="302" width="3" height="15" fill="#16a394"/>
<rect x="950" y="294" width="1" height="18" fill="#16a394"/>
<rect x="949" y="300" width="3" height="3" fill="#16a394"/>
<rect x="954" y="296" width="1" height="18" fill="#16a394"/>
<rect x="953" y="298" width="3" height="2" fill="#16a394"/>
<rect x="959" y="281" width="1" height="20" fill="#16a394"/>
<rect x="958" y="283" width="3" height="17" fill="#16a394"/>
<rect x="964" y="279" width="1" height="14" fill="#ea3546"/>
<rect x="963" y="283" width="3" height="5" fill="#ea3546"/>
<rect x="968" y="285" width="1" height="24" fill="#16a394"/>
<rect x="967" y="286" width="3" height="2" fill="#16a394"/>
<rect x="973" y="281" width="1" height="40" fill="#ea3546"/>
<rect x="972" y="287" width="3" height="26" fill="#ea3546"/>
<rect x="977" y="281" width="1" height="36" fill="#16a394"/>
<rect x="976" y="284" width="3" height="29" fill="#16a394"/>
<rect x="982" y="257" width="1" height="29" fill="#16a394"/>
<rect x="981" y="262" width="3" height="24" fill="#16a394"/>
<rect x="987" y="232" width="1" height="31" fill="#16a394"/>
<rect x="986" y="238" width="3" height="25" fill="#16a394"/>
<rect x="991" y="234" width="1" height="16" fill="#ea3546"/>
<rect x="990" y="238" width="3" height="4" fill="#ea3546"/>
<rect x="996" y="200" width="1" height="48" fill="#16a394"/>
<rect x="995" y="213" width="3" height="29" fill="#16a394"/>
<rect x="1001" y="206" width="1" height="37" fill="#ea3546"/>
<rect x="1000" y="213" width="3" height="9" fill="#ea3546"/>
<rect x="1005" y="221" width="1" height="32" fill="#ea3546"/>
<rect x="1004" y="221" width="3" height="12" fill="#ea3546"/>
<rect x="1010" y="209" width="1" height="34" fill="#16a394"/>
<rect x="1009" y="222" width="3" height="11" fill="#16a394"/>
<rect x="1014" y="222" width="1" height="38" fill="#ea3546"/>
<rect x="1013" y="222" width="3" height="17" fill="#ea3546"/>
<rect x="1019" y="235" width="1" height="43" fill="#ea3546"/>
<rect x="1018" y="238" width="3" height="23" fill="#ea3546"/>
<rect x="1024" y="231" width="1" height="34" fill="#16a394"/>
<rect x="1023" y="233" width="3" height="28" fill="#16a394"/>
<rect x="1028" y="219" width="1" height="27" fill="#16a394"/>
<rect x="1027" y="230" width="3" height="4" fill="#16a394"/>
<rect x="1033" y="226" width="1" height="29" fill="#ea3546"/>
<rect x="1032" y="230" width="3" height="20" fill="#ea3546"/>
<rect x="1038" y="243" width="1" height="35" fill="#ea3546"/>
<rect x="1037" y="249" width="3" height="14" fill="#ea3546"/>
<rect x="1042" y="259" width="1" height="54" fill="#ea3546"/>
<rect x="1041" y="262" width="3" height="7" fill="#ea3546"/>
<rect x="1047" y="253" width="1" height="22" fill="#16a394"/>
<rect x="1046" y="259" width="3" height="11" fill="#16a394"/>
<rect x="1051" y="226" width="1" height="34" fill="#16a394"/>
<rect x="1050" y="227" width="3" height="33" fill="#16a394"/>
<rect x="1056" y="204" width="1" height="37" fill="#16a394"/>
<rect x="1055" y="225" width="3" height="3" fill="#16a394"/>
<rect x="1061" y="207" width="1" height="22" fill="#16a394"/>
<rect x="1060" y="208" width="3" height="18" fill="#16a394"/>
<rect x="1065" y="208" width="1" height="26" fill="#ea3546"/>
<rect x="1064" y="208" width="3" height="14" fill="#ea3546"/>
<rect x="1070" y="219" width="1" height="26" fill="#ea3546"/>
<rect x="1069" y="221" width="3" height="18" fill="#ea3546"/>
<rect x="1075" y="207" width="1" height="63" fill="#ea3546"/>
<rect x="1074" y="238" width="3" height="16" fill="#ea3546"/>
<rect x="1079" y="232" width="1" height="60" fill="#ea3546"/>
<rect x="1078" y="253" width="3" height="11" fill="#ea3546"/>
<rect x="1084" y="234" width="1" height="50" fill="#16a394"/>
<rect x="1083" y="237" width="3" height="27" fill="#16a394"/>
<rect x="1089" y="225" width="1" height="25" fill="#ea3546"/>
<rect x="1088" y="237" width="3" height="3" fill="#ea3546"/>
<rect x="1093" y="211" width="1" height="30" fill="#16a394"/>
<rect x="1092" y="215" width="3" height="25" fill="#16a394"/>
<rect x="1098" y="213" width="1" height="24" fill="#ea3546"/>
<rect x="1097" y="215" width="3" height="19" fill="#ea3546"/>
<rect x="1102" y="229" width="1" height="11" fill="#16a394"/>
<rect x="1101" y="232" width="3" height="2" fill="#16a394"/>
</g>
<line x1="3" y1="233.5" x2="1288" y2="233.5" stroke="#10a596" stroke-width="1" stroke-dasharray="2 2" shape-rendering="crispEdges"/>
<rect x="3" y="278" width="1284" height="3" fill="#e8185a" shape-rendering="crispEdges"/>
<line x1="752.2" y1="643" x2="1208.8" y2="193" stroke="#f59a16" stroke-width="3"/>
<g fill="#434651" shape-rendering="crispEdges">
<rect x="1288" y="0" width="1" height="740"/>
<rect x="3" y="713" width="1334" height="1" />
<rect x="1289" y="6" width="4" height="1"/>
<rect x="1289" y="37" width="4" height="1"/>
<rect x="1289" y="67" width="4" height="1"/>
<rect x="1289" y="97" width="4" height="1"/>
<rect x="1289" y="127" width="4" height="1"/>
<rect x="1289" y="157" width="4" height="1"/>
<rect x="1289" y="187" width="4" height="1"/>
<rect x="1289" y="217" width="4" height="1"/>
<rect x="1289" y="248" width="4" height="1"/>
<rect x="1289" y="278" width="4" height="1"/>
<rect x="1289" y="308" width="4" height="1"/>
<rect x="1289" y="338" width="4" height="1"/>
<rect x="1289" y="368" width="4" height="1"/>
<rect x="1289" y="398" width="4" height="1"/>
<rect x="1289" y="428" width="4" height="1"/>
<rect x="1289" y="458" width="4" height="1"/>
<rect x="1289" y="489" width="4" height="1"/>
<rect x="1289" y="519" width="4" height="1"/>
<rect x="1289" y="549" width="4" height="1"/>
<rect x="1289" y="579" width="4" height="1"/>
<rect x="1289" y="609" width="4" height="1"/>
<rect x="1289" y="639" width="4" height="1"/>
<rect x="1289" y="669" width="4" height="1"/>
<rect x="1289" y="699" width="4" height="1"/>
<rect x="76" y="714" width="1" height="3"/>
<rect x="169" y="714" width="1" height="3"/>
<rect x="266" y="714" width="1" height="3"/>
<rect x="368" y="714" width="1" height="3"/>
<rect x="474" y="714" width="1" height="3"/>
<rect x="567" y="714" width="1" height="3"/>
<rect x="673" y="714" width="1" height="3"/>
<rect x="775" y="714" width="1" height="3"/>
<rect x="872" y="714" width="1" height="3"/>
<rect x="978" y="714" width="1" height="3"/>
<rect x="1076" y="714" width="1" height="3"/>
<rect x="1177" y="714" width="1" height="3"/>
<rect x="1284" y="714" width="1" height="3"/>
</g>
<g font-size="12.2" fill="#42454f">
<text x="1296.8" y="10.7" textLength="31.6" lengthAdjust="spacingAndGlyphs">25250</text>
<text x="1296.8" y="41.7" textLength="31.6" lengthAdjust="spacingAndGlyphs">25000</text>
<text x="1296.8" y="71.7" textLength="31.6" lengthAdjust="spacingAndGlyphs">24750</text>
<text x="1296.8" y="101.7" textLength="31.6" lengthAdjust="spacingAndGlyphs">24500</text>
<text x="1296.8" y="131.7" textLength="31.6" lengthAdjust="spacingAndGlyphs">24250</text>
<text x="1296.8" y="161.7" textLength="31.6" lengthAdjust="spacingAndGlyphs">24000</text>
<text x="1296.8" y="191.7" textLength="31.6" lengthAdjust="spacingAndGlyphs">23750</text>
<text x="1296.8" y="221.7" textLength="31.6" lengthAdjust="spacingAndGlyphs">23500</text>
<text x="1296.8" y="252.7" textLength="31.6" lengthAdjust="spacingAndGlyphs">23250</text>
<text x="1296.8" y="282.7" textLength="31.6" lengthAdjust="spacingAndGlyphs">23000</text>
<text x="1296.8" y="312.7" textLength="31.6" lengthAdjust="spacingAndGlyphs">22750</text>
<text x="1296.8" y="342.7" textLength="31.6" lengthAdjust="spacingAndGlyphs">22500</text>
<text x="1296.8" y="372.7" textLength="31.6" lengthAdjust="spacingAndGlyphs">22250</text>
<text x="1296.8" y="402.7" textLength="31.6" lengthAdjust="spacingAndGlyphs">22000</text>
<text x="1296.8" y="432.7" textLength="31.6" lengthAdjust="spacingAndGlyphs">21750</text>
<text x="1296.8" y="462.7" textLength="31.6" lengthAdjust="spacingAndGlyphs">21500</text>
<text x="1296.8" y="493.7" textLength="31.6" lengthAdjust="spacingAndGlyphs">21250</text>
<text x="1296.8" y="523.7" textLength="31.6" lengthAdjust="spacingAndGlyphs">21000</text>
<text x="1296.8" y="553.7" textLength="31.6" lengthAdjust="spacingAndGlyphs">20750</text>
<text x="1296.8" y="583.7" textLength="31.6" lengthAdjust="spacingAndGlyphs">20500</text>
<text x="1296.8" y="613.7" textLength="31.6" lengthAdjust="spacingAndGlyphs">20250</text>
<text x="1296.8" y="643.7" textLength="31.6" lengthAdjust="spacingAndGlyphs">20000</text>
<text x="1296.8" y="673.7" textLength="31.6" lengthAdjust="spacingAndGlyphs">19750</text>
<text x="1296.8" y="703.7" textLength="31.6" lengthAdjust="spacingAndGlyphs">19500</text>
</g>
<rect x="1288" y="224" width="49" height="18" fill="#0fa596"/>
<rect x="1288" y="233" width="4" height="1" fill="#fff"/>
<text x="1296.8" y="237.7" font-size="12.2" fill="#fff" textLength="31.6" lengthAdjust="spacingAndGlyphs">23375</text>
<rect x="1288" y="270" width="49" height="18" fill="#f4044f"/>
<rect x="1288" y="279" width="4" height="1" fill="#fff"/>
<text x="1296.8" y="283.7" font-size="12.2" fill="#fff" textLength="31.6" lengthAdjust="spacingAndGlyphs">22989</text>
<g font-size="11.5" fill="#42454f" text-anchor="middle">
<text x="75.3" y="733">2月</text>
<text x="168.3" y="733">3月</text>
<text x="265.3" y="733">4月</text>
<text x="367.3" y="733">5月</text>
<text x="473.3" y="733">6月</text>
<text x="566.3" y="733">7月</text>
<text x="672.3" y="733">8月</text>
<text x="774.3" y="733">9月</text>
<text x="872" y="733">10月</text>
<text x="978" y="733">11月</text>
<text x="1076" y="733">12月</text>
<text x="1176.8" y="733.2" font-weight="bold" font-size="12.2" textLength="27.2" lengthAdjust="spacingAndGlyphs">2020</text>
</g>
<clipPath id="cl"><rect x="0" y="714" width="1287" height="30"/></clipPath>
<text x="1283" y="733" font-size="11" fill="#42454f" text-anchor="middle" clip-path="url(#cl)">2月</text>
<g stroke="#131722" stroke-width="1.3" fill="none" stroke-linecap="round"><circle cx="1312.5" cy="727.5" r="4.6"/>
<line x1="1317.70" y1="727.50" x2="1319.70" y2="727.50"/>
<line x1="1316.18" y1="731.18" x2="1317.59" y2="732.59"/>
<line x1="1312.50" y1="732.70" x2="1312.50" y2="734.70"/>
<line x1="1308.82" y1="731.18" x2="1307.41" y2="732.59"/>
<line x1="1307.30" y1="727.50" x2="1305.30" y2="727.50"/>
<line x1="1308.82" y1="723.82" x2="1307.41" y2="722.41"/>
<line x1="1312.50" y1="722.30" x2="1312.50" y2="720.30"/>
<line x1="1316.18" y1="723.82" x2="1317.59" y2="722.41"/>
</g>
<circle cx="1274" cy="17" r="8" fill="#f68a2b"/>
<rect x="1273" y="12.5" width="2" height="6" rx="0.8" fill="#ffe7b8"/><rect x="1273" y="20" width="2" height="2" rx="0.8" fill="#ffe7b8"/>
<g fill="#131722" font-size="15.5" stroke="#131722" stroke-width="0.3">
<text x="13.6" y="20.6" font-size="14.4" textLength="30.4" lengthAdjust="spacingAndGlyphs">日経</text>
<text x="45.4" y="21" font-size="16.5" textLength="24" lengthAdjust="spacingAndGlyphs">225</text>
<text x="82.9" y="20.6" font-size="14.4" textLength="15.2" lengthAdjust="spacingAndGlyphs">日</text>
<text x="110.6" y="21.6" font-size="16" textLength="37.7" lengthAdjust="spacingAndGlyphs">FXCM</text>
</g>
<circle cx="75.4" cy="13.5" r="1" fill="#c9ccd4"/><circle cx="104.1" cy="16.5" r="1" fill="#c9ccd4"/>
<text x="159" y="19.8" font-size="12.6" fill="#6b6e79" stroke="#6b6e79" stroke-width="0.15" textLength="24.5" lengthAdjust="spacingAndGlyphs">始値</text>
<text x="184.7" y="20.1" font-size="12.8" fill="#1ea79a" stroke="#1ea79a" stroke-width="0.25" textLength="32.5" lengthAdjust="spacingAndGlyphs">23361</text>
<text x="226" y="19.8" font-size="12.6" fill="#6b6e79" stroke="#6b6e79" stroke-width="0.15" textLength="25" lengthAdjust="spacingAndGlyphs">高値</text>
<text x="251.7" y="20.1" font-size="12.8" fill="#1ea79a" stroke="#1ea79a" stroke-width="0.25" textLength="33.4" lengthAdjust="spacingAndGlyphs">23405</text>
<text x="293" y="19.8" font-size="12.6" fill="#6b6e79" stroke="#6b6e79" stroke-width="0.15" textLength="25" lengthAdjust="spacingAndGlyphs">安値</text>
<text x="318.6" y="20.1" font-size="12.8" fill="#1ea79a" stroke="#1ea79a" stroke-width="0.25" textLength="33.4" lengthAdjust="spacingAndGlyphs">23325</text>
<text x="360.2" y="19.8" font-size="12.6" fill="#6b6e79" stroke="#6b6e79" stroke-width="0.15" textLength="24.5" lengthAdjust="spacingAndGlyphs">終値</text>
<text x="385.6" y="20.1" font-size="12.8" fill="#1ea79a" stroke="#1ea79a" stroke-width="0.25" textLength="33.5" lengthAdjust="spacingAndGlyphs">23375</text>
<text x="426.5" y="20.1" font-size="12.8" fill="#1ea79a" stroke="#1ea79a" stroke-width="0.25" textLength="19.1" lengthAdjust="spacingAndGlyphs">+14</text>
<text x="451" y="20.1" font-size="12.8" fill="#1ea79a" stroke="#1ea79a" stroke-width="0.25" textLength="47.8" lengthAdjust="spacingAndGlyphs">(+0.06%)</text>
<rect x="12.5" y="31.5" width="20" height="20" rx="3.5" fill="#fff" stroke="#d4d6dd" stroke-width="1"/>
<path d="M18.8 39.8 L22.3 43.3 L25.8 39.8" fill="none" stroke="#131722" stroke-width="1.5" stroke-linecap="round" stroke-linejoin="round"/>
<text x="40" y="45.3" font-size="12.5" fill="#4a4d57" textLength="38.6" lengthAdjust="spacingAndGlyphs">出来高</text>
<text x="83.6" y="45.6" font-size="12.8" fill="#5b5e69" textLength="12" lengthAdjust="spacingAndGlyphs">20</text>
<text x="105.7" y="45.6" font-size="12.8" fill="#1ea79a" textLength="38.9" lengthAdjust="spacingAndGlyphs">3.214K</text>
<text x="151.4" y="45.6" font-size="12.8" fill="#f08a3c" textLength="46" lengthAdjust="spacingAndGlyphs">20.402K</text>
</svg>
</body></html>
